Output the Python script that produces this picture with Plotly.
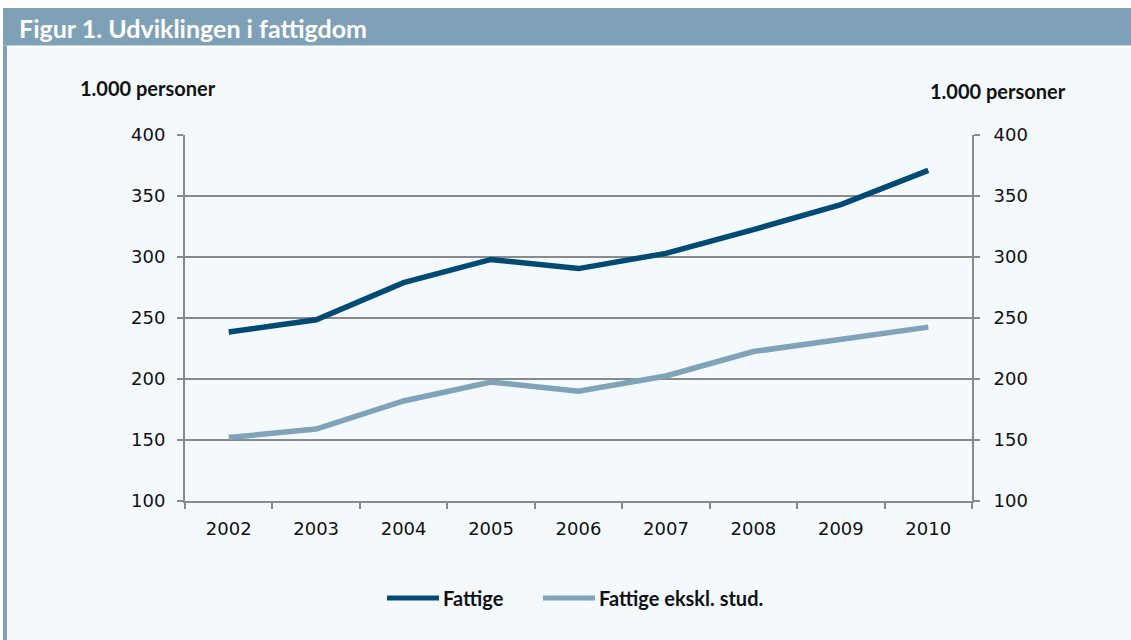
import plotly.graph_objects as go

years = ["2002", "2003", "2004", "2005", "2006", "2007", "2008", "2009", "2010"]
fattige = [238.5, 248.5, 279, 298, 290.5, 303, 322.5, 343, 371]
ekskl_stud = [152, 159, 182, 197.5, 190, 202.5, 222.5, 232.5, 242.5]
y_ticks = [100, 150, 200, 250, 300, 350, 400]
series_names = ["Fattige", "Fattige ekskl. stud."]

W, H = 1131, 640
L, R, T, B = 185, 972, 135, 501  # plot area in pixels

def px(x):
    return (x - L) / (R - L)

def py(y):
    return (B - y) / (B - T)

DARK = "#004a74"
LIGHT = "#7fa3b8"
BAR = "#7fa1b7"
BG = "#f4f9fd"
GRID = "#8a8a8a"
TXT = "#111111"

fig = go.Figure()
fig.add_trace(go.Scatter(x=years, y=fattige, mode="lines", name=series_names[0],
                         line=dict(color=DARK, width=5.5), showlegend=False))
fig.add_trace(go.Scatter(x=years, y=ekskl_stud, mode="lines", name=series_names[1],
                         line=dict(color=LIGHT, width=5.5), showlegend=False))
# invisible trace for right axis
fig.add_trace(go.Scatter(x=years, y=fattige, yaxis="y2", mode="lines",
                         line=dict(width=0), showlegend=False, hoverinfo="skip", opacity=0))

tickfont = dict(family="DejaVu Sans", size=18, color=TXT)

shapes = [
    dict(type="rect", xref="paper", yref="paper", x0=px(0), x1=px(W), y0=py(H), y1=py(0),
         fillcolor="white", line=dict(width=0), layer="below"),
    dict(type="rect", xref="paper", yref="paper", x0=px(3), x1=px(W), y0=py(H), y1=py(46),
         fillcolor=BG, line=dict(width=0), layer="below"),
    dict(type="rect", xref="paper", yref="paper", x0=px(7), x1=px(W), y0=py(48), y1=py(45.5),
         fillcolor="white", line=dict(width=0), layer="below"),
    dict(type="rect", xref="paper", yref="paper", x0=px(3), x1=px(W), y0=py(45.5), y1=py(8),
         fillcolor=BAR, line=dict(width=0), layer="below"),
    dict(type="rect", xref="paper", yref="paper", x0=px(3), x1=px(7), y0=py(H), y1=py(45.5),
         fillcolor=BAR, line=dict(width=0), layer="below"),
    # legend samples
    dict(type="line", xref="paper", yref="paper", x0=px(387), x1=px(439), y0=py(598), y1=py(598),
         line=dict(color=DARK, width=5)),
    dict(type="line", xref="paper", yref="paper", x0=px(543), x1=px(595), y0=py(598), y1=py(598),
         line=dict(color=LIGHT, width=5)),
]

annotations = [
    dict(text="<b>Figur 1. Udviklingen i fattigdom</b>", xref="paper", yref="paper",
         x=px(17), y=py(28), xanchor="left", yanchor="middle", showarrow=False,
         font=dict(family="Lato", size=25, color="white")),
    dict(text="<b>1.000 personer</b>", xref="paper", yref="paper",
         x=px(78), y=py(88), xanchor="left", yanchor="middle", showarrow=False,
         font=dict(family="Lato", size=20, color=TXT)),
    dict(text="<b>1.000 personer</b>", xref="paper", yref="paper",
         x=px(1068), y=py(91), xanchor="right", yanchor="middle", showarrow=False,
         font=dict(family="Lato", size=20, color=TXT)),
    dict(text="<b>" + series_names[0] + "</b>", xref="paper", yref="paper",
         x=px(441), y=py(598), xanchor="left", yanchor="middle", showarrow=False,
         font=dict(family="Lato", size=20, color=TXT)),
    dict(text="<b>" + series_names[1] + "</b>", xref="paper", yref="paper",
         x=px(597), y=py(598), xanchor="left", yanchor="middle", showarrow=False,
         font=dict(family="Lato", size=20, color=TXT)),
]

fig.update_layout(
    width=W, height=H,
    margin=dict(l=L, r=W - R, t=T, b=H - B, pad=0),
    paper_bgcolor=BG, plot_bgcolor=BG,
    showlegend=False,
    xaxis=dict(type="category", tickson="boundaries", ticks="outside", ticklen=6,
               tickcolor=GRID, tickwidth=2, showline=True, linecolor=GRID, linewidth=2,
               showgrid=False, tickfont=tickfont, range=[-0.5, 8.5], fixedrange=True,
               ticklabelstandoff=10),
    yaxis=dict(range=[100, 400], tickvals=y_ticks, ticks="outside", ticklen=6,
               tickcolor=GRID, tickwidth=2, showline=True, linecolor=GRID, linewidth=2,
               showgrid=True, gridcolor=GRID, gridwidth=2, zeroline=False,
               tickfont=tickfont, ticklabelstandoff=8),
    yaxis2=dict(range=[100, 400], tickvals=y_ticks, overlaying="y", side="right",
                ticks="outside", ticklen=6, tickcolor=GRID, tickwidth=2, showline=True,
                linecolor=GRID, linewidth=2, showgrid=False, zeroline=False,
                tickfont=tickfont, ticklabelstandoff=10),
    shapes=shapes,
    annotations=annotations,
)

fig.write_html("out.html", config={"displayModeBar": False},
               post_script="document.body.style.margin='0';document.body.style.padding='0';")
